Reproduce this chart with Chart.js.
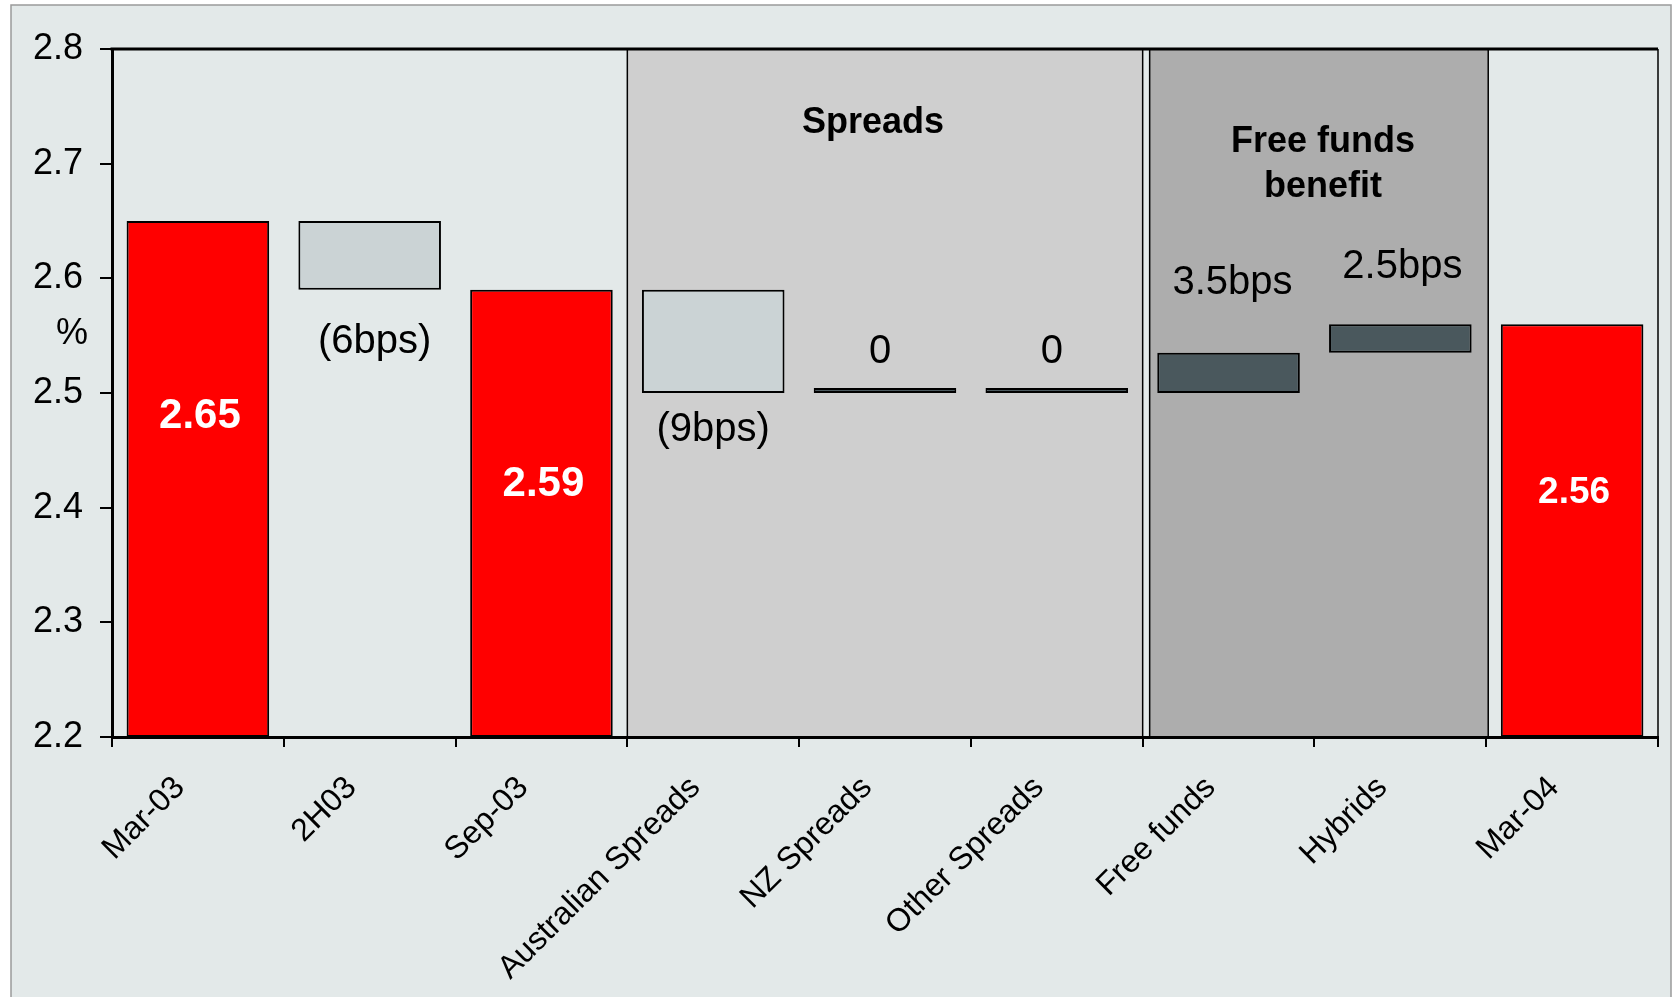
<!DOCTYPE html>
<html>
<head>
<meta charset="utf-8">
<title>Net interest margin movement</title>
<script src="https://cdn.jsdelivr.net/npm/chart.js@4.4.1/dist/chart.umd.min.js"></script>
<style>
  html, body { margin: 0; padding: 0; background: #ffffff; }
  #wrap { width: 1677px; height: 997px; }
</style>
</head>
<body>
<div id="wrap"><canvas id="nim" width="1677" height="997"></canvas></div>
<script>
// ---- data -------------------------------------------------------------
const categories = ['Mar-03', '2H03', 'Sep-03', 'Australian Spreads', 'NZ Spreads',
                    'Other Spreads', 'Free funds', 'Hybrids', 'Mar-04'];
const marginTotals = [2.65, null, 2.59, null, null, null, null, null, 2.56]; // %
const marginChangeBps = [null, -6, null, -9, 0, 0, 3.5, 2.5, null];          // basis points
const yTickValues = [2.2, 2.3, 2.4, 2.5, 2.6, 2.7, 2.8];
const bandTitles = [['Spreads'], ['Free funds', 'benefit']];
const bandFirstCategory = [3, 6];
const bandLastCategory = [5, 7];

// ---- styling ----------------------------------------------------------
const FONT = '"Liberation Sans", Arial, Helvetica, sans-serif';
const Y_MIN = 2.2, Y_MAX = 2.8;
const RED = '#ff0000', FALL = '#cbd3d5', RISE = '#4a585d';
const PANEL = '#e3e9e9';
const bandFills = ['#cfcfcf', '#adadad'];
const bandTitleTop = [133, 152];       // baseline of first title line, px
const bandTitleDx = [-12, 4];
const totalLabelFrac = [0.379, null, 0.435, null, null, null, null, null, 0.408];
const totalLabelSize = [42, null, 42, null, null, null, null, null, 37];
const changeLabelOffset = [null, 52, null, 37, -41, -41, -70, -57, null];
const changeLabelDx = [null, 5, null, 0, -5, -5, 4, 2, null];

// ---- waterfall ranges built from the values above ----------------------
const totalRanges = [];
const changeRanges = [];
let level = null;
categories.forEach((c, i) => {
  if (marginTotals[i] != null) {
    level = marginTotals[i];
    totalRanges.push([Y_MIN, level]);
    changeRanges.push(null);
  } else {
    const start = level;
    level = +(level + marginChangeBps[i] / 100).toFixed(4);
    totalRanges.push(null);
    changeRanges.push([start, level]);
  }
});
const changeColors = marginChangeBps.map(v => (v != null && v < 0) ? FALL : RISE);

function changeText(v) {
  if (v === 0) return '0';
  return v < 0 ? '(' + (-v) + 'bps)' : v + 'bps';
}

// ---- plugins ----------------------------------------------------------
const panelPlugin = {
  id: 'panel',
  beforeDraw(chart) {
    const { ctx, chartArea: a, scales: { x } } = chart;
    ctx.save();
    ctx.fillStyle = '#ffffff';
    ctx.fillRect(0, 0, chart.width, chart.height);
    ctx.fillStyle = PANEL;
    ctx.fillRect(11, 5, 1660, chart.height);
    ctx.strokeStyle = '#9a9a9a';
    ctx.lineWidth = 1.5;
    ctx.strokeRect(11, 5, 1660, chart.height + 10);

    const step = x.getPixelForValue(1) - x.getPixelForValue(0);
    const edges = [
      [x.getPixelForValue(bandFirstCategory[0]) - step / 2, x.getPixelForValue(bandLastCategory[0]) + step / 2],
      [x.getPixelForValue(bandFirstCategory[1]) - step / 2 + 7, x.getPixelForValue(bandLastCategory[1]) + step / 2 + 2]
    ];
    edges.forEach(([l, r], k) => {
      ctx.fillStyle = bandFills[k];
      ctx.fillRect(l, a.top, r - l, a.bottom - a.top);
      ctx.strokeStyle = '#000';
      ctx.lineWidth = 1.5;
      ctx.beginPath();
      ctx.moveTo(l, a.top); ctx.lineTo(l, a.bottom);
      ctx.moveTo(r, a.top); ctx.lineTo(r, a.bottom);
      ctx.stroke();
      ctx.fillStyle = '#000';
      ctx.font = 'bold 36px ' + FONT;
      ctx.textAlign = 'center';
      ctx.textBaseline = 'alphabetic';
      bandTitles[k].forEach((line, j) => {
        ctx.fillText(line, (l + r) / 2 + bandTitleDx[k], bandTitleTop[k] + j * 45);
      });
    });
    ctx.restore();
  },
  afterDraw(chart) {
    const { ctx, chartArea: a, scales: { y } } = chart;
    ctx.save();
    ctx.strokeStyle = '#000';
    ctx.lineWidth = 3;
    ctx.beginPath();
    ctx.moveTo(a.left - 1.5, a.top); ctx.lineTo(a.right, a.top);
    ctx.stroke();
    ctx.lineWidth = 1.5;
    ctx.beginPath();
    ctx.moveTo(a.right, a.top); ctx.lineTo(a.right, a.bottom);
    ctx.stroke();
    // axis unit
    ctx.fillStyle = '#000';
    ctx.font = '36px ' + FONT;
    ctx.textAlign = 'center';
    ctx.textBaseline = 'middle';
    ctx.fillText('%', 72, y.getPixelForValue(2.551));
    ctx.restore();
  }
};

const labelPlugin = {
  id: 'barLabels',
  afterDatasetsDraw(chart) {
    const { ctx, scales: { y } } = chart;
    const totals = chart.getDatasetMeta(0).data;
    const changes = chart.getDatasetMeta(1).data;
    ctx.save();
    ctx.textAlign = 'center';
    ctx.textBaseline = 'middle';
    categories.forEach((c, i) => {
      if (marginTotals[i] != null) {
        const bar = totals[i];
        const top = y.getPixelForValue(marginTotals[i]);
        const bottom = y.getPixelForValue(Y_MIN);
        ctx.fillStyle = '#ffffff';
        ctx.font = 'bold ' + totalLabelSize[i] + 'px ' + FONT;
        ctx.fillText(marginTotals[i].toFixed(2), bar.x + 2, top + (bottom - top) * totalLabelFrac[i]);
      } else {
        const bar = changes[i];
        const v = marginChangeBps[i];
        const [s, e] = changeRanges[i];
        const anchor = v < 0 ? y.getPixelForValue(Math.min(s, e)) : y.getPixelForValue(Math.max(s, e));
        ctx.fillStyle = '#000';
        ctx.font = '40px ' + FONT;
        ctx.fillText(changeText(v), bar.x + changeLabelDx[i], anchor + changeLabelOffset[i]);
      }
    });
    ctx.restore();
  }
};

// ---- chart --------------------------------------------------------------
new Chart(document.getElementById('nim'), {
  type: 'bar',
  data: {
    labels: categories,
    datasets: [
      { label: 'Net interest margin', data: totalRanges, backgroundColor: RED },
      { label: 'Movement', data: changeRanges, backgroundColor: changeColors, minBarLength: 5 }
    ]
  },
  options: {
    responsive: false,
    animation: false,
    devicePixelRatio: 1,
    layout: { padding: { left: 0, top: 49, right: 19, bottom: 0 } },
    plugins: { legend: { display: false }, tooltip: { enabled: false } },
    datasets: {
      bar: {
        grouped: false,
        categoryPercentage: 1,
        barPercentage: 0.83,
        borderColor: '#000',
        borderWidth: 2,
        borderSkipped: false
      }
    },
    scales: {
      x: {
        offset: true,
        grid: { offset: true, drawOnChartArea: false, drawTicks: true, tickLength: 10, color: '#000', lineWidth: 2 },
        border: { display: true, color: '#000', width: 3 },
        ticks: {
          autoSkip: false, minRotation: 45, maxRotation: 45, color: '#000',
          font: { family: FONT, size: 32 }, padding: 22, labelOffset: -18
        },
        afterFit(s) { s.height = 260; }
      },
      y: {
        min: Y_MIN,
        max: Y_MAX,
        afterBuildTicks(s) { s.ticks = yTickValues.map(v => ({ value: v })); },
        ticks: { color: '#000', font: { family: FONT, size: 36 }, padding: 17, callback: v => (+v).toFixed(1) },
        grid: { drawOnChartArea: false, drawTicks: true, tickLength: 12, color: '#000', lineWidth: 2 },
        border: { display: true, color: '#000', width: 3 },
        afterFit(s) { s.width = 112; }
      }
    }
  },
  plugins: [panelPlugin, labelPlugin]
});
</script>
</body>
</html>
